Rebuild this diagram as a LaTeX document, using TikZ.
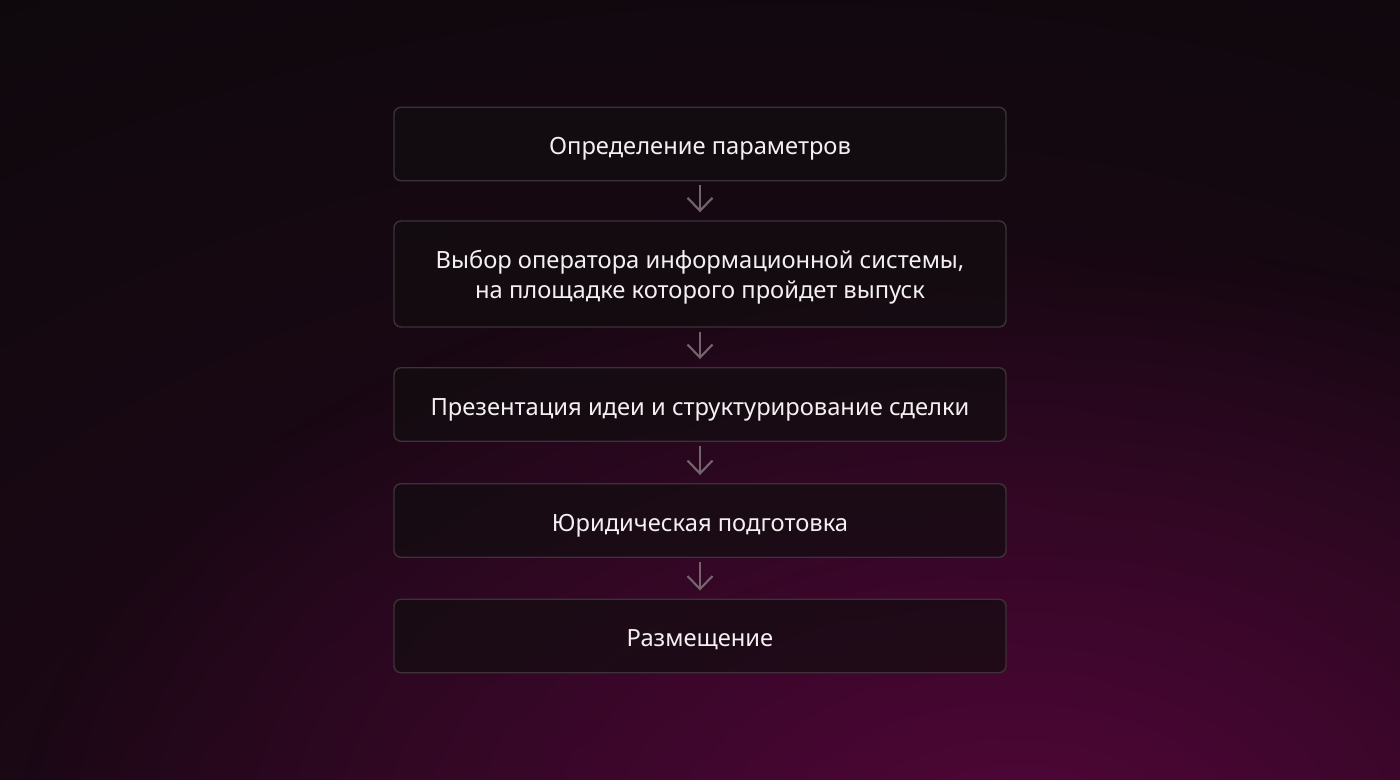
\documentclass[tikz,border=0pt]{standalone}
\usepackage{fontspec}
\setmainfont{Noto Sans}
\usetikzlibrary{arrows.meta,fadings}
\definecolor{bgdark}{RGB}{12,9,11}
\definecolor{tint}{RGB}{40,8,30}
\definecolor{glow}{RGB}{80,6,56}
\definecolor{edge}{RGB}{60,50,56}
\definecolor{boxfill}{RGB}{18,13,16}
\definecolor{arr}{RGB}{116,100,110}
\definecolor{txt}{RGB}{244,240,242}
\tikzfading[name=glowfade,inner color=transparent!0,outer color=transparent!100]
\tikzset{
    ST/.style ={rectangle,rounded corners=0.07cm,minimum width=6.12cm,draw=edge,line width=0.4pt,
                fill=boxfill,fill opacity=0.7,text opacity=1,text=txt,align=center,
                font=\fontsize{6.75pt}{8.5pt}\selectfont},
    ST1/.style ={ST,minimum height=0.735cm,text height=6.6pt,text depth=0.4pt},
    ST2/.style ={ST,minimum height=1.06cm,text height=14.5pt,text depth=0.56pt},
    AR/.style ={draw=arr,line width=0.6pt,-{Straight Barb[length=1.3mm,width=2.5mm]},
                shorten <=0.04cm,shorten >=0.08cm}}
\begin{document}
\begin{tikzpicture}
        \fill[bgdark] (0,0) rectangle (14,7.8);
        \begin{scope}
        \clip (0,0) rectangle (14,7.8);
        \fill[tint,path fading=glowfade] (8,-2.5) ellipse (18 and 13);
        \fill[glow,path fading=glowfade] (10.2,-0.6) ellipse (10 and 6);
        \end{scope}
        \node[ST1] (s1) at(7,6.36){Определение параметров};
        \node[ST2] (s2) at(7,5.06){Выбор оператора информационной системы,\\на площадке которого пройдет выпуск};
        \node[ST1] (s3) at(7,3.755){Презентация идеи и структурирование сделки};
        \node[ST1] (s4) at(7,2.595){Юридическая подготовка};
        \node[ST1] (s5) at(7,1.44){Размещение};
        \foreach \a/\b in {s1/s2,s2/s3,s3/s4,s4/s5}{
        \draw[AR] (\a) -- (\b);}
    \end{tikzpicture}
\end{document}
